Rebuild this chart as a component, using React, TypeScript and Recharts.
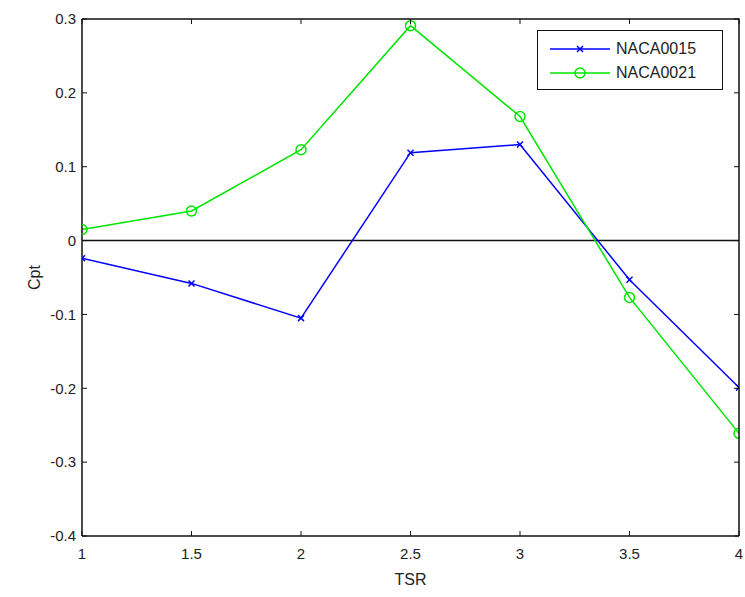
import React from 'react';
import { LineChart, Line, XAxis, YAxis, ReferenceLine } from 'recharts';

// values
const tsr = [1, 1.5, 2, 2.5, 3, 3.5, 4];
const naca0015 = [-0.024, -0.058, -0.105, 0.119, 0.13, -0.053, -0.199];
const naca0021 = [0.015, 0.04, 0.123, 0.291, 0.168, -0.077, -0.261];
const xTicks = [1, 1.5, 2, 2.5, 3, 3.5, 4];
const yTicks = [-0.4, -0.3, -0.2, -0.1, 0, 0.1, 0.2, 0.3];

const data = tsr.map((t, i) => ({ tsr: t, naca0015: naca0015[i], naca0021: naca0021[i] }));

const BLUE = '#0000ff';
const GREEN = '#00e600';
const FONT = '"Liberation Sans", Arial, sans-serif';

const W = 745, H = 597;
const M = { top: 19, right: 6, bottom: 21, left: 42 };
const Y_AXIS_W = 40, X_AXIS_H = 40;

const fmt = (v: number) => String(Math.round(v * 10) / 10);

const CrossDot = (props: any) => {
  const { cx, cy } = props;
  if (cx == null || cy == null) return null;
  const s = 3;
  return (
    <path
      d={`M${cx - s},${cy - s}L${cx + s},${cy + s}M${cx - s},${cy + s}L${cx + s},${cy - s}`}
      stroke={BLUE}
      strokeWidth={1.5}
      fill="none"
    />
  );
};

const LegendBox = () => (
  <div
    style={{
      position: 'absolute',
      left: 537,
      top: 30,
      width: 186,
      height: 60,
      boxSizing: 'border-box',
      border: '1.5px solid #111',
      background: '#fff',
      padding: '6px 0 0 10px',
      fontFamily: FONT,
      fontSize: 16,
      color: '#222',
      zIndex: 3,
    }}
  >
    {[
      { name: 'NACA0015', color: BLUE, marker: 'x' },
      { name: 'NACA0021', color: GREEN, marker: 'o' },
    ].map((it) => (
      <div key={it.name} style={{ display: 'flex', alignItems: 'center', height: 24 }}>
        <svg width={64} height={14}>
          <line x1={2} y1={7} x2={62} y2={7} stroke={it.color} strokeWidth={1.5} />
          {it.marker === 'x' ? (
            <path d="M29,4L35,10M29,10L35,4" stroke={it.color} strokeWidth={1.5} />
          ) : (
            <circle cx={32} cy={7} r={5} stroke={it.color} strokeWidth={1.5} fill="none" />
          )}
        </svg>
        <span style={{ marginLeft: 4 }}>{it.name}</span>
      </div>
    ))}
  </div>
);

// top and right edges of the box, with inward ticks, laid over the plot area
const BoxFrame = () => {
  const left = M.left + Y_AXIS_W;
  const right = W - M.right;
  const top = M.top;
  const bottom = H - M.bottom - X_AXIS_H;
  const sx = (v: number) => left + ((v - xTicks[0]) / (xTicks[xTicks.length - 1] - xTicks[0])) * (right - left);
  const sy = (v: number) => bottom - ((v - yTicks[0]) / (yTicks[yTicks.length - 1] - yTicks[0])) * (bottom - top);
  return (
    <svg
      width={W}
      height={H}
      style={{ position: 'absolute', left: 0, top: 0, pointerEvents: 'none', zIndex: 2 }}
    >
      <path d={`M${left},${top}L${right},${top}L${right},${bottom}`} stroke="#111" strokeWidth={1.5} fill="none" />
      {xTicks.map((t) => (
        <line key={'x' + t} x1={sx(t)} x2={sx(t)} y1={top} y2={top + 5} stroke="#111" />
      ))}
      {yTicks.map((t) => (
        <line key={'y' + t} x1={right} x2={right - 5} y1={sy(t)} y2={sy(t)} stroke="#111" />
      ))}
    </svg>
  );
};

const tickStyle = { fontSize: 15, fill: '#222', fontFamily: FONT };

export default function App() {
  return (
    <div style={{ position: 'absolute', left: 0, top: 0, width: W, height: H, background: '#fff' }}>
      <LineChart width={W} height={H} data={data} margin={M}>
        <XAxis
          dataKey="tsr"
          type="number"
          domain={[1, 4]}
          ticks={xTicks}
          tickSize={-5}
          tickMargin={17}
          tick={tickStyle}
          axisLine={{ stroke: '#111', strokeWidth: 1.5 }}
          tickLine={{ stroke: '#111' }}
          height={X_AXIS_H}
          allowDataOverflow
          label={{ value: 'TSR', position: 'insideBottom', offset: -9, style: { ...tickStyle, fontSize: 16 } }}
        />
        <YAxis
          type="number"
          domain={[-0.4, 0.3]}
          ticks={yTicks}
          tickFormatter={fmt}
          tickSize={-5}
          tickMargin={11}
          tick={tickStyle}
          axisLine={{ stroke: '#111', strokeWidth: 1.5 }}
          tickLine={{ stroke: '#111' }}
          width={Y_AXIS_W}
          allowDataOverflow
          label={{ value: 'Cpt', angle: -90, position: 'insideLeft', offset: -8, style: { ...tickStyle, fontSize: 16, textAnchor: 'middle' } }}
        />
        <ReferenceLine y={0} stroke="#111" strokeWidth={1.5} />
        <Line
          type="linear"
          dataKey="naca0015"
          stroke={BLUE}
          strokeWidth={1.5}
          dot={<CrossDot />}
          activeDot={false}
          isAnimationActive={false}
        />
        <Line
          type="linear"
          dataKey="naca0021"
          stroke={GREEN}
          strokeWidth={1.5}
          dot={{ r: 5, stroke: GREEN, strokeWidth: 1.5, fill: 'none' }}
          activeDot={false}
          isAnimationActive={false}
        />
      </LineChart>
      <BoxFrame />
      <LegendBox />
    </div>
  );
}
